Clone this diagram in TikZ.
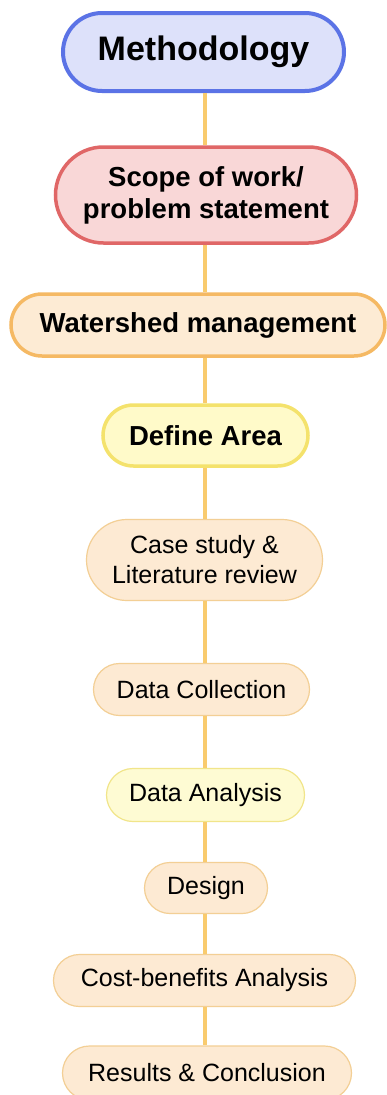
\documentclass[tikz,border=0pt]{standalone}
\usepackage{fontspec}
\setmainfont{Liberation Sans}
\usetikzlibrary{shapes.misc}
\definecolor{lnk}{HTML}{F9CB6E}
\definecolor{bluB}{HTML}{5B73E6}\definecolor{bluF}{HTML}{DDE1FA}
\definecolor{redB}{HTML}{E06767}\definecolor{redF}{HTML}{F9D7D7}
\definecolor{orB}{HTML}{F5B964}\definecolor{orF}{HTML}{FDEBD4}
\definecolor{yeB}{HTML}{F4E26C}\definecolor{yeF}{HTML}{FFFAC9}
\definecolor{ltB}{HTML}{F3CF95}\definecolor{ltF}{HTML}{FDEAD3}
\definecolor{lyB}{HTML}{F1E58A}\definecolor{lyF}{HTML}{FEFBD3}
\begin{document}
\begin{tikzpicture}[x=1pt,y=-1pt,
  box/.style={rounded rectangle, inner sep=0pt, align=center, text=black},
  big/.style={box, line width=3.5pt, font=\fontsize{27.5}{32}\selectfont\bfseries},
  small/.style={box, line width=1.2pt, font=\fontsize{25}{30}\selectfont},
  link/.style={draw=lnk, line width=4pt}]
\useasboundingbox[fill=white] (0,0) rectangle (386,1095);
\node[box, line width=4pt, draw=bluB, fill=bluF, minimum width=281pt, minimum height=78pt, font=\fontsize{34}{38}\selectfont\bfseries] (m) at (203.5,52) {Methodology};
\node[big, draw=redB, fill=redF, minimum width=301pt, minimum height=96pt] (s) at (206,195) {Scope of work/\\problem statement};
\node[big, draw=orB, fill=orF, minimum width=374pt, minimum height=62pt] (w) at (198,325) {Watershed management};
\node[big, draw=yeB, fill=yeF, minimum width=205pt, minimum height=61pt] (d) at (205.5,435.5) {Define Area};
\node[small, draw=ltB, fill=ltF, minimum width=236pt, minimum height=81pt] (c) at (204.5,560) {Case study \&\\Literature review};
\node[small, draw=ltB, fill=ltF, minimum width=216pt, minimum height=52pt] (dc) at (201.5,689.5) {Data Collection};
\node[small, draw=lyB, fill=lyF, minimum width=198pt, minimum height=53pt] (da) at (205.5,795) {Data Analysis};
\node[small, draw=ltB, fill=ltF, minimum width=123pt, minimum height=51pt] (de) at (206,888) {Design};
\node[small, draw=ltB, fill=ltF, minimum width=302pt, minimum height=52pt] (cb) at (204.5,980.5) {Cost-benefits Analysis};
\node[small, draw=ltB, fill=ltF, minimum width=289pt, minimum height=54pt] (r) at (207,1073) {Results \& Conclusion};
\begin{scope}[link]
\draw (m.south -| 205,0) -- (s.north -| 205,0);
\draw (s.south -| 205,0) -- (w.north -| 205,0);
\draw (w.south -| 205,0) -- (d.north -| 205,0);
\draw (d.south -| 205,0) -- (c.north -| 205,0);
\draw[line width=3.5pt] (c.south -| 205,0) -- (dc.north -| 205,0);
\draw[line width=3.5pt] (dc.south -| 205,0) -- (da.north -| 205,0);
\draw[line width=3.5pt] (da.south -| 205,0) -- (de.north -| 205,0);
\draw[line width=3.5pt] (de.south -| 205,0) -- (cb.north -| 205,0);
\draw[line width=3.5pt] (cb.south -| 205,0) -- (r.north -| 205,0);
\end{scope}
\end{tikzpicture}
\end{document}
